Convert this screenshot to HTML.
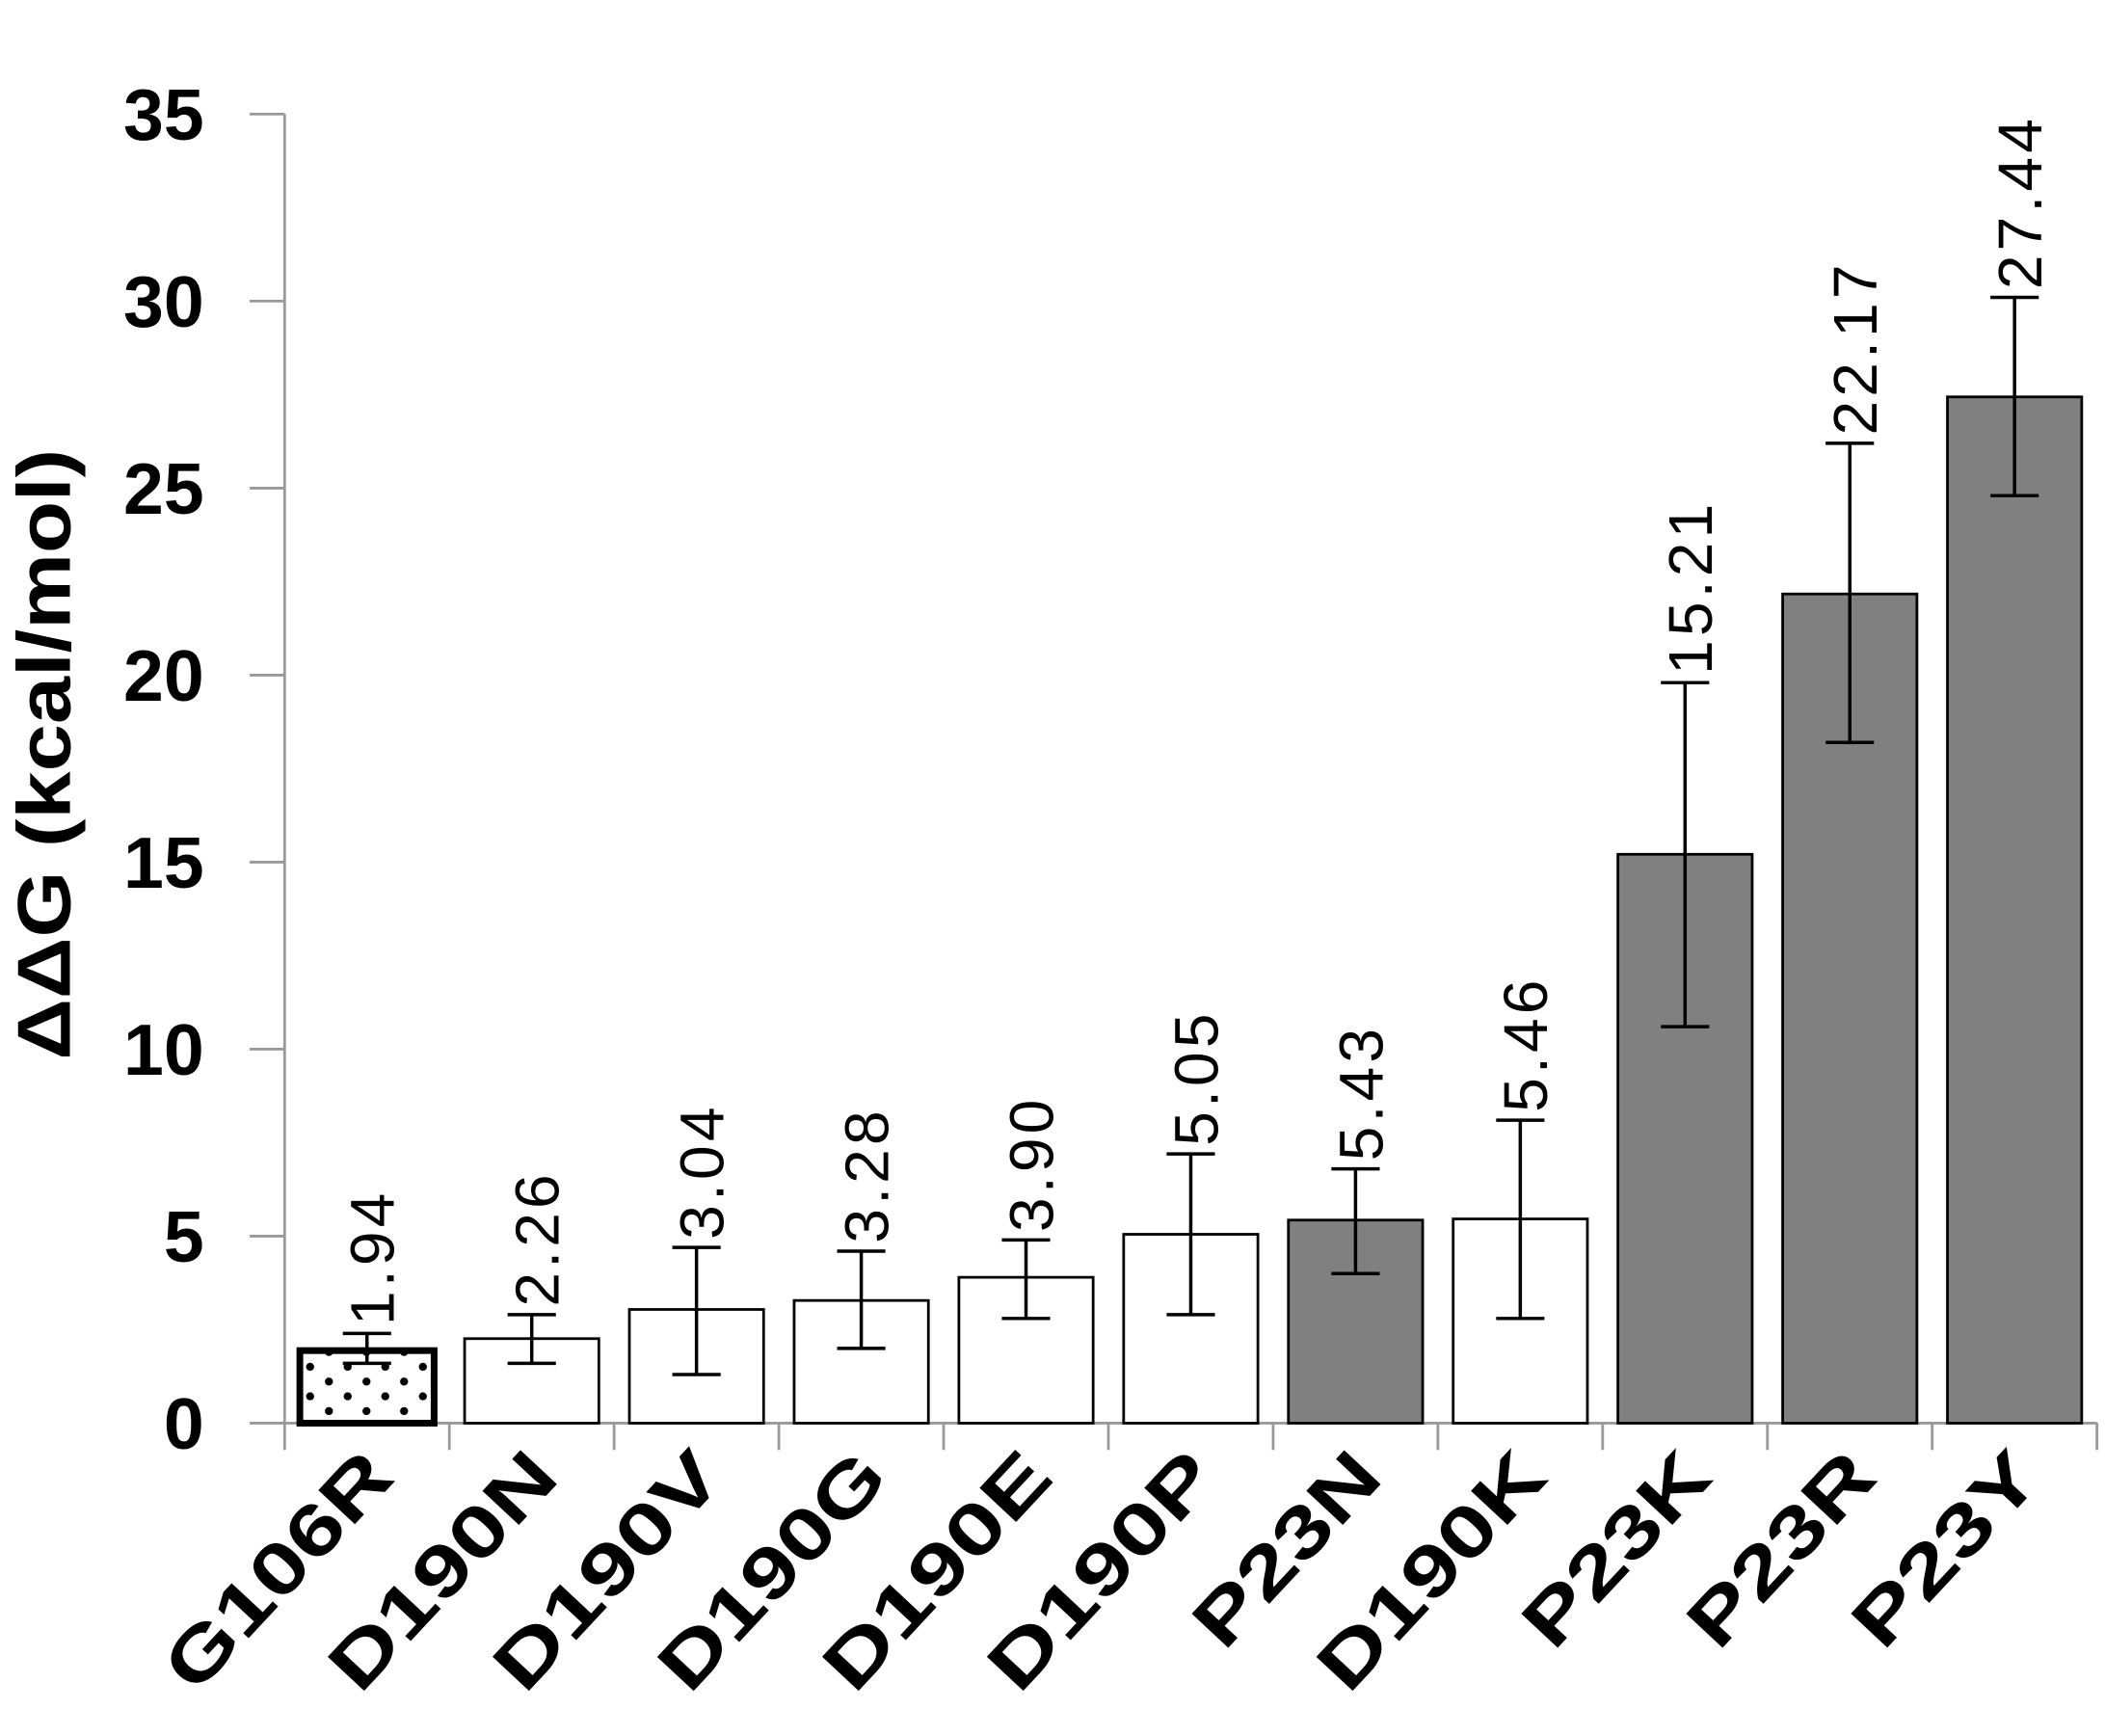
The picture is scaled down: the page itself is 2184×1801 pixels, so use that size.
<!DOCTYPE html>
<html><head><meta charset="utf-8"><style>
html,body{margin:0;padding:0;background:#fff;}
svg{display:block;}
</style></head><body>
<svg id="chart" xmlns="http://www.w3.org/2000/svg" width="2184" height="1801" viewBox="0 0 1568 1293">
<g id="axes"></g>
<g id="bars"></g>
<g id="labels"></g>
<text transform="translate(52,562) rotate(-90)" text-anchor="middle" font-family="Liberation Sans, sans-serif" font-weight="bold" font-size="56" textLength="455" lengthAdjust="spacingAndGlyphs" fill="#000">ΔΔG (kcal/mol)</text>
</svg>
<script>
const categories = ["G106R","D190N","D190V","D190G","D190E","D190P","P23N","D190K","P23K","P23R","P23Y"];
const values = [1.94,2.26,3.04,3.28,3.90,5.05,5.43,5.46,15.21,22.17,27.44];
const errLow = [1.6,1.6,1.3,2.0,2.8,2.9,4.0,2.8,10.6,18.2,24.8];
const errHigh = [2.4,2.9,4.7,4.6,4.9,7.2,6.8,8.1,19.8,26.2,30.1];
const valueLabels = ["1.94","2.26","3.04","3.28","3.90","5.05","5.43","5.46","15.21","22.17","27.44"];
const groups = ["ref","white","white","white","white","white","grey","white","grey","grey","grey"];
const yTicks = [0,5,10,15,20,25,30,35];

const NS="http://www.w3.org/2000/svg";
const X0=212, X1=1562, Y0=1060, YTOP=85, YMAX=35;
const bandW=(X1-X0)/categories.length;
function yScale(v){return Y0-(v/YMAX)*(Y0-YTOP);}
function xCenter(i){return X0+bandW*(i+0.5);}
function mk(tag,attrs,parent){const e=document.createElementNS(NS,tag);for(const k in attrs)e.setAttribute(k,attrs[k]);parent.appendChild(e);return e;}
const svg=document.getElementById('chart');
const axes=document.getElementById('axes'), barsG=document.getElementById('bars'), labG=document.getElementById('labels');
const defs=mk('defs',{},svg);
const pat=mk('pattern',{id:'dots',width:'28',height:'22',patternUnits:'userSpaceOnUse'},defs);
mk('circle',{cx:'7',cy:'6',r:'3',fill:'#000'},pat);
mk('circle',{cx:'21',cy:'17',r:'3',fill:'#000'},pat);

const ya=mk('line',{x1:X0,y1:YTOP,x2:X0,y2:Y0,stroke:'#999','stroke-width':'2'},axes);


yTicks.forEach(t=>{
  const y=yScale(t);
  const tk=mk('line',{x1:X0-26,y1:y,x2:X0,y2:y,stroke:'#999','stroke-width':'2'},axes);
  
  
  const tl=mk('text',{x:152,y:y+19,'text-anchor':'end','font-family':'Liberation Sans, sans-serif','font-weight':'bold','font-size':'54',fill:'#000'},axes);
  tl.textContent=String(t);
  
  
});
const xa=mk('line',{x1:X0,y1:Y0,x2:X1,y2:Y0,stroke:'#999','stroke-width':'2'},axes);


for(let i=0;i<=categories.length;i++){
  const x=X0+bandW*i;
  const tk=mk('line',{x1:x,y1:Y0,x2:x,y2:Y0+20,stroke:'#999','stroke-width':'2'},axes);
  
  
}
categories.forEach((c,i)=>{
  const cx=xCenter(i), bw=100;
  const top=yScale(values[i]);
  const fill=groups[i]==='grey'?'#808080':(groups[i]==='ref'?'url(#dots)':'#fff');
  const sw=groups[i]==='ref'?5:2;
  const r=mk('rect',{x:cx-bw/2,y:top,width:bw,height:Y0-top,fill:fill,stroke:'#000','stroke-width':sw},barsG);
  
  
  const yl=yScale(errLow[i]), yh=yScale(errHigh[i]);
  const eb=mk('path',{d:`M${cx} ${yl}V${yh}M${cx-18} ${yl}H${cx+18}M${cx-18} ${yh}H${cx+18}`,stroke:'#000','stroke-width':'2.5',fill:'none'},barsG);
  
  
  const vl=mk('text',{transform:`translate(${cx+20},${yh-6}) rotate(-90)`,'font-family':'Liberation Sans, sans-serif','font-size':'46','letter-spacing':'3',fill:'#000'},labG);
  vl.textContent=valueLabels[i];
  
  
  const xl=mk('text',{transform:`translate(${cx+22},${Y0+42}) rotate(-47)`,'text-anchor':'end','font-family':'Liberation Sans, sans-serif','font-weight':'bold','font-size':'54','textLength':c.length*44,'lengthAdjust':'spacingAndGlyphs',fill:'#000'},labG);
  xl.textContent=c;
  
  
});
</script>
</body></html>
